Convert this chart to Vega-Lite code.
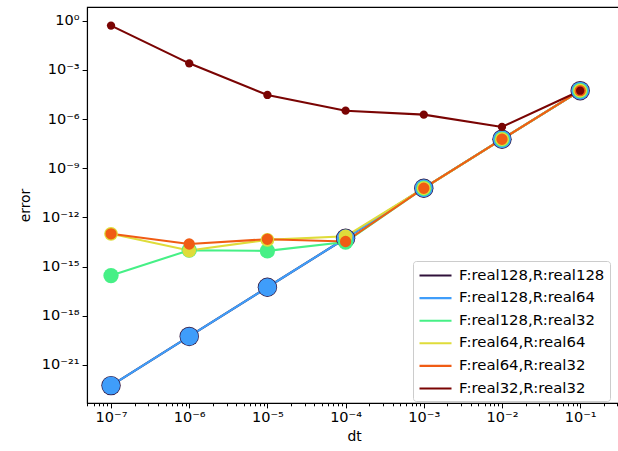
{
  "$schema": "https://vega.github.io/schema/vega-lite/v6.json",
  "width": 534,
  "height": 396,
  "autosize": {"type": "none"},
  "padding": {"left": 87, "top": 7, "right": 0, "bottom": 48},
  "background": "white",
  "config": {
    "font": "DejaVu Sans",
    "view": {"stroke": "black", "strokeWidth": 1.1},
    "axis": {
      "grid": false,
      "domainColor": "black",
      "domainWidth": 1.1,
      "tickColor": "black",
      "tickWidth": 1,
      "labelFont": "DejaVu Sans",
      "labelFontSize": 14.5,
      "labelColor": "black",
      "titleFont": "DejaVu Sans",
      "titleFontSize": 13.9,
      "titleFontWeight": "normal",
      "titleColor": "black",
      "labelOverlap": false,
      "labelFlush": false
    },
    "legend": {
      "labelFont": "DejaVu Sans",
      "labelFontSize": 14.9,
      "labelColor": "black"
    }
  },
  "data": {
    "values": [
      {"series": "F:real128,R:real128", "dt": 1e-7, "err": 5.5e-23},
      {"series": "F:real128,R:real128", "dt": 1e-6, "err": 5.5e-20},
      {"series": "F:real128,R:real128", "dt": 1e-5, "err": 5.5e-17},
      {"series": "F:real128,R:real128", "dt": 1e-4, "err": 5.37e-14},
      {"series": "F:real128,R:real128", "dt": 1e-3, "err": 6.03e-11},
      {"series": "F:real128,R:real128", "dt": 1e-2, "err": 5.89e-8},
      {"series": "F:real128,R:real128", "dt": 1e-1, "err": 5.37e-5},
      {"series": "F:real128,R:real64", "dt": 1e-7, "err": 5.5e-23},
      {"series": "F:real128,R:real64", "dt": 1e-6, "err": 5.5e-20},
      {"series": "F:real128,R:real64", "dt": 1e-5, "err": 5.5e-17},
      {"series": "F:real128,R:real64", "dt": 1e-4, "err": 5.37e-14},
      {"series": "F:real128,R:real64", "dt": 1e-3, "err": 6.03e-11},
      {"series": "F:real128,R:real64", "dt": 1e-2, "err": 5.89e-8},
      {"series": "F:real128,R:real64", "dt": 1e-1, "err": 5.37e-5},
      {"series": "F:real128,R:real32", "dt": 1e-7, "err": 2.82e-16},
      {"series": "F:real128,R:real32", "dt": 1e-6, "err": 1.0e-14},
      {"series": "F:real128,R:real32", "dt": 1e-5, "err": 9.12e-15},
      {"series": "F:real128,R:real32", "dt": 1e-4, "err": 3.16e-14},
      {"series": "F:real128,R:real32", "dt": 1e-3, "err": 6.03e-11},
      {"series": "F:real128,R:real32", "dt": 1e-2, "err": 5.89e-8},
      {"series": "F:real128,R:real32", "dt": 1e-1, "err": 5.37e-5},
      {"series": "F:real64,R:real64", "dt": 1e-7, "err": 1.0e-13},
      {"series": "F:real64,R:real64", "dt": 1e-6, "err": 9.55e-15},
      {"series": "F:real64,R:real64", "dt": 1e-5, "err": 4.27e-14},
      {"series": "F:real64,R:real64", "dt": 1e-4, "err": 7.08e-14},
      {"series": "F:real64,R:real64", "dt": 1e-3, "err": 6.03e-11},
      {"series": "F:real64,R:real64", "dt": 1e-2, "err": 5.89e-8},
      {"series": "F:real64,R:real64", "dt": 1e-1, "err": 5.37e-5},
      {"series": "F:real64,R:real32", "dt": 1e-7, "err": 1.0e-13},
      {"series": "F:real64,R:real32", "dt": 1e-6, "err": 2.4e-14},
      {"series": "F:real64,R:real32", "dt": 1e-5, "err": 4.68e-14},
      {"series": "F:real64,R:real32", "dt": 1e-4, "err": 3.39e-14},
      {"series": "F:real64,R:real32", "dt": 1e-3, "err": 6.03e-11},
      {"series": "F:real64,R:real32", "dt": 1e-2, "err": 5.89e-8},
      {"series": "F:real64,R:real32", "dt": 1e-1, "err": 5.37e-5},
      {"series": "F:real32,R:real32", "dt": 1e-7, "err": 0.501},
      {"series": "F:real32,R:real32", "dt": 1e-6, "err": 2.51e-3},
      {"series": "F:real32,R:real32", "dt": 1e-5, "err": 2.95e-5},
      {"series": "F:real32,R:real32", "dt": 1e-4, "err": 3.24e-6},
      {"series": "F:real32,R:real32", "dt": 1e-3, "err": 1.86e-6},
      {"series": "F:real32,R:real32", "dt": 1e-2, "err": 3.31e-7},
      {"series": "F:real32,R:real32", "dt": 1e-1, "err": 5.37e-5}
    ]
  },
  "encoding": {
    "x": {
      "field": "dt",
      "type": "quantitative",
      "title": "dt",
      "scale": {"type": "log", "domain": [4.93e-8, 0.3327], "nice": false},
      "axis": {
        "values": [5e-8, 6e-8, 7e-8, 8e-8, 9e-8, 1e-7, 2e-7, 3e-7, 4e-7, 5e-7, 6e-7, 7e-7, 8e-7, 9e-7, 1e-6, 2e-6, 3e-6, 4e-6, 5e-6, 6e-6, 7e-6, 8e-6, 9e-6, 1e-5, 2e-5, 3e-5, 4e-5, 5e-5, 6e-5, 7e-5, 8e-5, 9e-5, 1e-4, 2e-4, 3e-4, 4e-4, 5e-4, 6e-4, 7e-4, 8e-4, 9e-4, 1e-3, 2e-3, 3e-3, 4e-3, 5e-3, 6e-3, 7e-3, 8e-3, 9e-3, 1e-2, 2e-2, 3e-2, 4e-2, 5e-2, 6e-2, 7e-2, 8e-2, 9e-2, 1e-1, 2e-1, 3e-1],
        "tickSize": {"condition": {"test": "abs(log(datum.value)/LN10 - round(log(datum.value)/LN10)) < 0.001", "value": 4.9}, "value": 2.8},
        "labelExpr": "abs(log(datum.value)/LN10 - round(log(datum.value)/LN10)) < 0.001 ? '10' + replace(replace(replace(replace(replace(replace(replace(replace(replace(replace(replace(''+round(log(datum.value)/LN10),'-','⁻'),'0','⁰'),'1','¹'),'2','²'),'3','³'),'4','⁴'),'5','⁵'),'6','⁶'),'7','⁷'),'8','⁸'),'9','⁹') : ''",
        "labelPadding": 3,
        "titlePadding": 5
      }
    },
    "y": {
      "field": "err",
      "type": "quantitative",
      "title": "error",
      "scale": {"type": "log", "domain": [4.79e-24, 6.84], "nice": false},
      "axis": {
        "values": [1, 1e-3, 1e-6, 1e-9, 1e-12, 1e-15, 1e-18, 1e-21],
        "tickSize": 4.9,
        "labelExpr": "'10' + replace(replace(replace(replace(replace(replace(replace(replace(replace(replace(replace(''+round(log(datum.value)/LN10),'-','⁻'),'0','⁰'),'1','¹'),'2','²'),'3','³'),'4','⁴'),'5','⁵'),'6','⁶'),'7','⁷'),'8','⁸'),'9','⁹')",
        "labelPadding": 3,
        "titlePadding": 9
      }
    },
    "color": {
      "field": "series",
      "type": "nominal",
      "sort": null,
      "scale": {
        "domain": ["F:real128,R:real128", "F:real128,R:real64", "F:real128,R:real32", "F:real64,R:real64", "F:real64,R:real32", "F:real32,R:real32"],
        "range": ["#30123b", "#3f9dfa", "#46f086", "#dfdc3a", "#f05c14", "#7a0403"]
      },
      "legend": {
        "title": null,
        "orient": "none",
        "legendX": 326,
        "legendY": 254,
        "symbolType": "M-1,0H3",
        "symbolSize": 256,
        "symbolStrokeWidth": 2.1,
        "symbolOpacity": 1,
        "labelOffset": 22,
        "rowPadding": 5.6,
        "padding": 5,
        "fillColor": "rgba(255,255,255,0.8)",
        "strokeColor": "#cccccc",
        "cornerRadius": 3
      }
    }
  },
  "layer": [
    {"mark": {"type": "line", "strokeWidth": 2.1}},
    {
      "mark": {"type": "point", "filled": true, "opacity": 1, "shape": "circle"},
      "encoding": {
        "size": {
          "condition": [
            {"test": "datum.series === 'F:real128,R:real128'", "value": 376},
            {"test": "datum.series === 'F:real128,R:real64'", "value": 324},
            {"test": "datum.series === 'F:real128,R:real32'", "value": 234},
            {"test": "datum.series === 'F:real64,R:real64'", "value": 190},
            {"test": "datum.series === 'F:real64,R:real32'", "value": 128}
          ],
          "value": 69
        }
      }
    }
  ]
}
